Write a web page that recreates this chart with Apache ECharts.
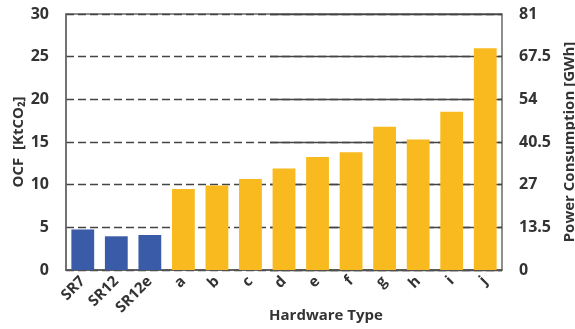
<!DOCTYPE html>
<html>
<head>
<meta charset="utf-8">
<script src="https://cdn.jsdelivr.net/npm/echarts@6/dist/echarts.min.js"></script>
<style>html,body{margin:0;padding:0;background:#fff}#c{width:575px;height:329px}</style>
</head>
<body>
<div id="c"></div>
<script>
var categories = ['SR7', 'SR12', 'SR12e', 'a', 'b', 'c', 'd', 'e', 'f', 'g', 'h', 'i', 'j'];
var ocfValues = [4.75, 3.95, 4.1, 9.5, 9.9, 10.65, 11.9, 13.25, 13.8, 16.8, 15.3, 18.55, 26.0];
var groupOf = ['baseline', 'baseline', 'baseline', 'new', 'new', 'new', 'new', 'new', 'new', 'new', 'new', 'new', 'new'];
var leftTicks = [0, 5, 10, 15, 20, 25, 30];
var rightTicks = [0, 13.5, 27, 40.5, 54, 67.5, 81];

var groupColors = { baseline: '#3A5CA8', 'new': '#F8BA1E' };
var FONT = 'Open Sans';
var chart = echarts.init(document.getElementById('c'));
chart.setOption({
  animation: false,
  grid: [
    { left: 66, right: 73, top: 14, bottom: 59, outerBoundsMode: 'none', containLabel: false, show: true, borderColor: '#6a6a6a', borderWidth: 1.5, backgroundColor: 'transparent' },
    { left: 270, right: 73, top: 14, bottom: 59, outerBoundsMode: 'none', containLabel: false }
  ],
  xAxis: [
    {
      type: 'category', gridIndex: 0, data: categories,
      axisLine: { show: true, lineStyle: { color: '#555', width: 1.5 } },
      axisTick: { show: false },
      axisLabel: { rotate: 45, interval: 0, margin: 9, color: '#333', fontFamily: FONT, fontWeight: 'bold', fontSize: 15 },
      name: 'Hardware Type', nameLocation: 'middle', nameGap: 38, nameMoveOverlap: false,
      nameTextStyle: { color: '#333', fontFamily: FONT, fontWeight: 'bold', fontSize: 15, padding: [0, 0, 0, 84] }
    },
    { type: 'value', gridIndex: 1, show: false, min: 0, max: 1 }
  ],
  yAxis: [
    {
      type: 'value', gridIndex: 0, min: leftTicks[0], max: leftTicks[leftTicks.length - 1], interval: leftTicks[1] - leftTicks[0],
      axisLine: { show: true, lineStyle: { color: '#6a6a6a', width: 1.5 } },
      axisTick: { show: false },
      axisLabel: { margin: 17, color: '#333', fontFamily: FONT, fontWeight: 'bold', fontSize: 16 },
      splitLine: { show: true, lineStyle: { color: '#444', width: 1.3, type: [8, 4] } },
      name: 'OCF  [KtCO\u2082]', nameLocation: 'middle', nameGap: 40, nameRotate: 90, nameMoveOverlap: false,
      nameTextStyle: { color: '#333', fontFamily: FONT, fontWeight: 'bold', fontSize: 15 }
    },
    {
      type: 'value', gridIndex: 1, position: 'right', min: rightTicks[0], max: rightTicks[rightTicks.length - 1], interval: rightTicks[1] - rightTicks[0],
      axisLine: { show: false },
      axisTick: { show: false },
      axisLabel: { margin: 17, color: '#333', fontFamily: FONT, fontWeight: 'bold', fontSize: 16 },
      splitLine: { show: true, lineStyle: { color: '#444', width: 1.3, type: 'solid' } },
      name: 'Power Consumption [GWh]', nameLocation: 'middle', nameGap: 60, nameRotate: 90, nameMoveOverlap: false,
      nameTextStyle: { color: '#333', fontFamily: FONT, fontWeight: 'bold', fontSize: 15 }
    }
  ],
  series: [{
    type: 'bar', xAxisIndex: 0, yAxisIndex: 0, barWidth: '68%', z: 5,
    data: ocfValues.map(function (v, i) { return { value: v, itemStyle: { color: groupColors[groupOf[i]] } }; })
  }]
});
</script>
</body>
</html>
